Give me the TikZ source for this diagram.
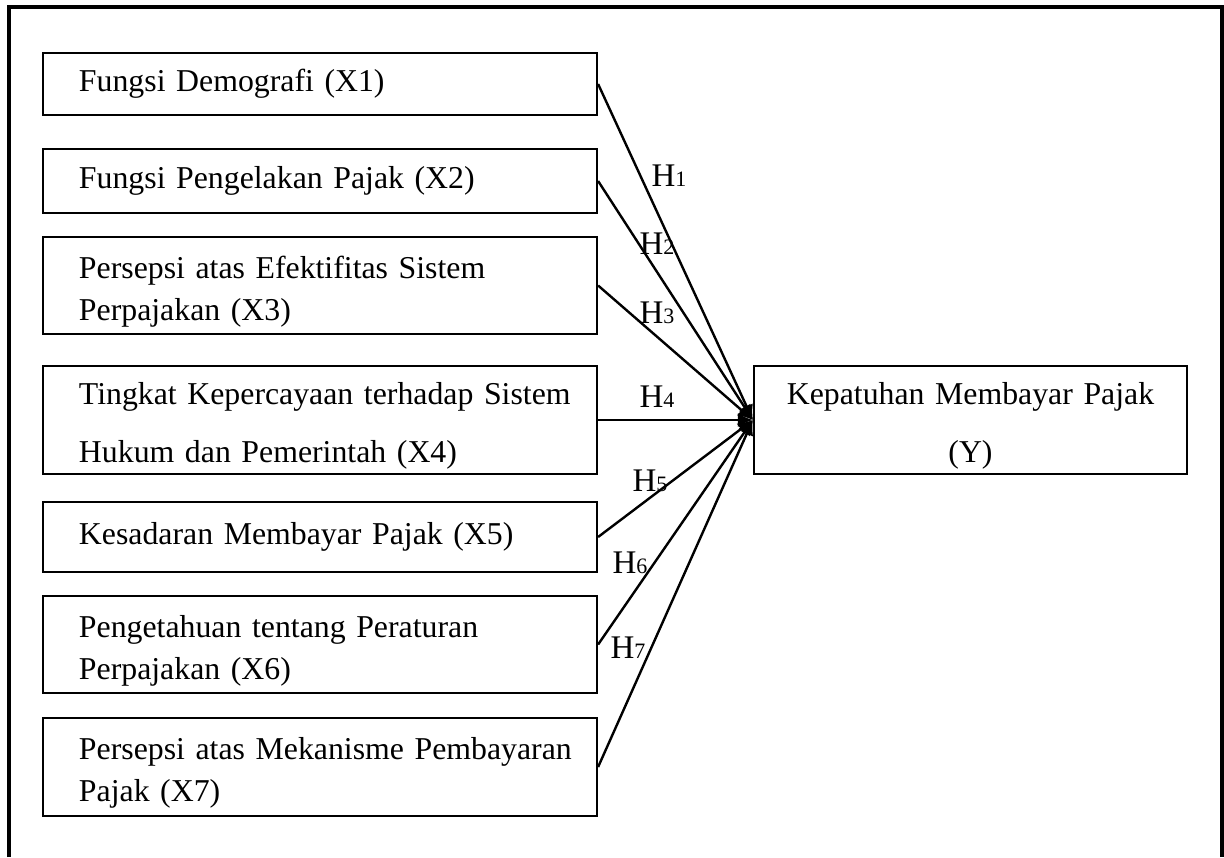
\documentclass[tikz,border=0pt]{standalone}
\usepackage{fontspec}
\setmainfont{Liberation Serif}
\usetikzlibrary{arrows.meta}
\tikzset{
  varbox/.style={draw, line width=1.1pt, rectangle, text width=252pt, inner xsep=12.5pt, inner ysep=0pt,
    align=left, font=\fontsize{15.9}{21}\selectfont, execute at begin node={\leftskip=5.5pt\relax}},
  twoline/.style={varbox, execute at begin node={\rule{0pt}{17pt}}},
  depbox/.style={draw, line width=1.1pt, rectangle, text width=216.5pt, minimum height=54pt,
    inner sep=0pt, align=center, font=\fontsize{15.9}{21}\selectfont, execute at begin node={\rule{0pt}{16.5pt}}},
  hpath/.style={line width=1.2pt, -{Latex[length=7.5pt,width=7pt]}},
  hlabel/.style={inner sep=0pt, font=\fontsize{16.5}{18}\selectfont}
}
\newcommand{\hnum}[1]{{\fontsize{11}{12}\selectfont #1}}
\begin{document}
\begin{tikzpicture}[x=0.5pt, y=-0.5pt]
\useasboundingbox (0,0) rectangle (1224,857);
% the open frame
\draw[line width=2pt] (9,857) -- (9,7) -- (1222,7) -- (1222,857);
% the independent variables
\node[varbox, minimum height=31pt] (x1) at (320,84) {Fungsi Demografi (X1)};
\node[varbox, minimum height=32pt] (x2) at (320,181) {Fungsi Pengelakan Pajak (X2)};
\node[twoline, minimum height=48.5pt] (x3) at (320,285.5) {Persepsi atas Efektifitas Sistem\\ Perpajakan (X3)};
\node[twoline, minimum height=54pt] (x4) at (320,420) {Tingkat Kepercayaan terhadap Sistem\\[8pt] Hukum dan Pemerintah (X4)};
\node[varbox, minimum height=35pt] (x5) at (320,537) {Kesadaran Membayar Pajak (X5)};
\node[twoline, minimum height=48.5pt] (x6) at (320,644.5) {Pengetahuan tentang Peraturan\\ Perpajakan (X6)};
\node[twoline, minimum height=49pt] (x7) at (320,767) {Persepsi atas Mekanisme Pembayaran\\ Pajak (X7)};
% the dependent variable
\node[depbox] (kpt) at (970.5,420) {Kepatuhan Membayar Pajak\\[8pt] (Y)};
% the hypotheses
\foreach \i in {1,...,7}
  \draw[hpath] (x\i.east) -- (kpt.west);
\foreach \i/\x/\y in {1/669/176, 2/657/244, 3/657/313, 4/657/397, 5/650/481, 6/630/563, 7/628/648}
  \node[hlabel] (h\i) at (\x,\y) {H\hnum{\i}};
\end{tikzpicture}
\end{document}
